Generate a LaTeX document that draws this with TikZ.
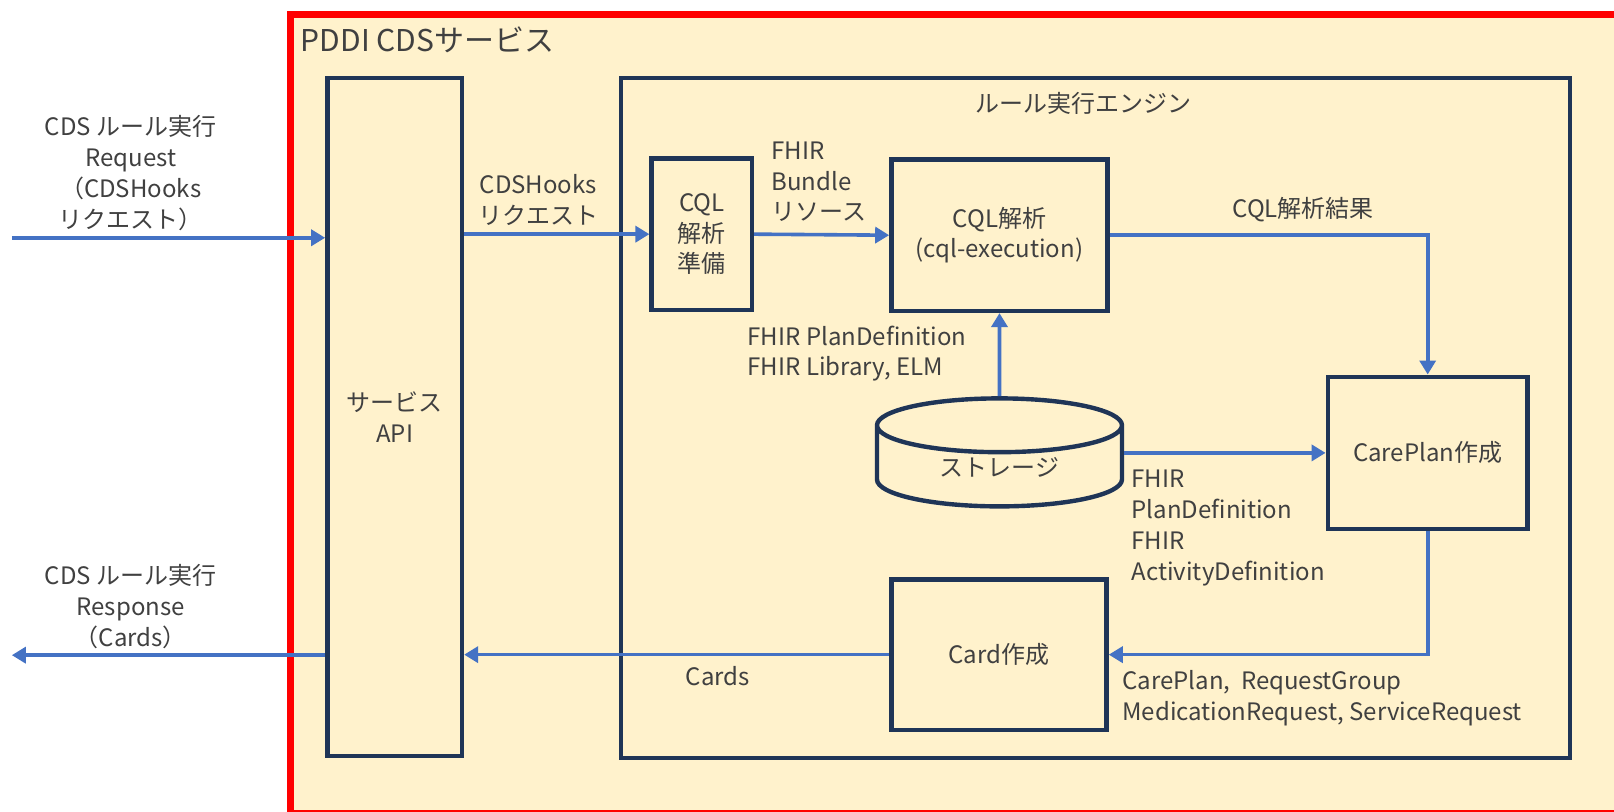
\documentclass[tikz,border=0pt]{standalone}
\usepackage{fontspec}
\setmainfont{Noto Sans CJK JP}
\usepackage{xcolor}
\usepackage{tikz}
\usetikzlibrary{arrows.meta,positioning,shapes.geometric,calc}
\definecolor{cream}{HTML}{FFF2CC}
\definecolor{navy}{HTML}{1F3557}
\definecolor{flowblue}{HTML}{4472C4}
\definecolor{ink}{HTML}{404040}
\definecolor{alert}{HTML}{FF0000}

\begin{document}
\begin{tikzpicture}[x=0.5147pt,y=-0.5147pt,
  font=\fontsize{12}{15.4}\selectfont,text=ink,
  box/.style={draw=navy,line width=2.2pt,inner sep=0pt,align=center},
  flow/.style={draw=flowblue,line width=1.8pt,-{Triangle[length=7pt,width=8pt]}},
  lbl/.style={inner sep=0pt,align=center},
  lbll/.style={inner sep=0pt,align=left,anchor=west}]
  \clip (0,0) rectangle (1568,788);
  \draw[alert,fill=cream,line width=3.5pt] (282,14.5) rectangle (1590,790);
  \node[anchor=west,inner sep=0pt,font=\fontsize{15}{17}\selectfont] (svc) at (292,39) {PDDI CDSサービス};
  % engine frame and boxes
  \node[box,minimum width=474.5pt,minimum height=340pt] (engine) at (1064,406.2) {};
  \node[lbl] (enginetitle) at (1053,100) {ルール実行エンジン};
  \node[box,minimum width=67.3pt,minimum height=338.9pt] (api) at (383.4,405.2) {サービス\\API};
  \node[box,minimum width=50.2pt,minimum height=75.7pt] (prep) at (681.8,227.5) {CQL\\解析\\準備};
  \node[box,minimum width=108.1pt,minimum height=75.7pt] (cql) at (971,228.5) {CQL解析\\(cql-execution)};
  \node[box,shape=cylinder,shape border rotate=90,aspect=0.45,anchor=shape center,
    minimum width=122.5pt,minimum height=54pt] (storage) at (971,439.5) {ストレージ};
  \node[box,minimum width=99.9pt,minimum height=76.2pt] (careplan) at (1387,440) {CarePlan作成};
  \node[box,minimum width=107.6pt,minimum height=75.1pt] (card) at (970.5,636) {Card作成};
  \coordinate (reqin) at (11.5,231);
  \coordinate (resout) at (11.5,636.5);
  % connectors
  \draw[flow] (reqin) -- (reqin -| api.west);
  \draw[flow] (api.east |- prep.west) -- (prep.west);
  \draw[flow] (prep.east) -- (cql.west);
  \draw[flow] (cql.east) -| (careplan.north);
  \draw[flow] (storage.north) -- (cql.south);
  \draw[flow] (storage.east |- careplan.west) -- (careplan.west);
  \draw[flow] (careplan.south) |- (card.east);
  \draw[flow] (card.west) -- (card.west -| api.east);
  \draw[flow] (api.west |- resout) -- (resout);
  % labels
  \node[lbl] (reqlbl) at (127,168) {CDS ルール実行\\Request\\（CDSHooks\\リクエスト）};
  \node[lbl] (reslbl) at (127,589) {CDS ルール実行\\Response\\（Cards）};
  \node[lbl] (hookslbl) at (523,194.5) {CDSHooks\\リクエスト};
  \node[lbll] (bundlelbl) at (749,176.7) {FHIR\\Bundle\\リソース};
  \node[lbl] (resultlbl) at (1266,204) {CQL解析結果};
  \node[lbll] (liblbl) at (726,343.5) {FHIR PlanDefinition\\FHIR Library, ELM};
  \node[lbll] (deflbl) at (1099,513) {FHIR\\PlanDefinition\\FHIR\\ActivityDefinition};
  \node[lbll] (reslistlbl) at (1090,678) {CarePlan,\ \ RequestGroup\\MedicationRequest, ServiceRequest};
  \node[lbl] (cardslbl) at (697.5,657) {Cards};
\end{tikzpicture}
\end{document}
